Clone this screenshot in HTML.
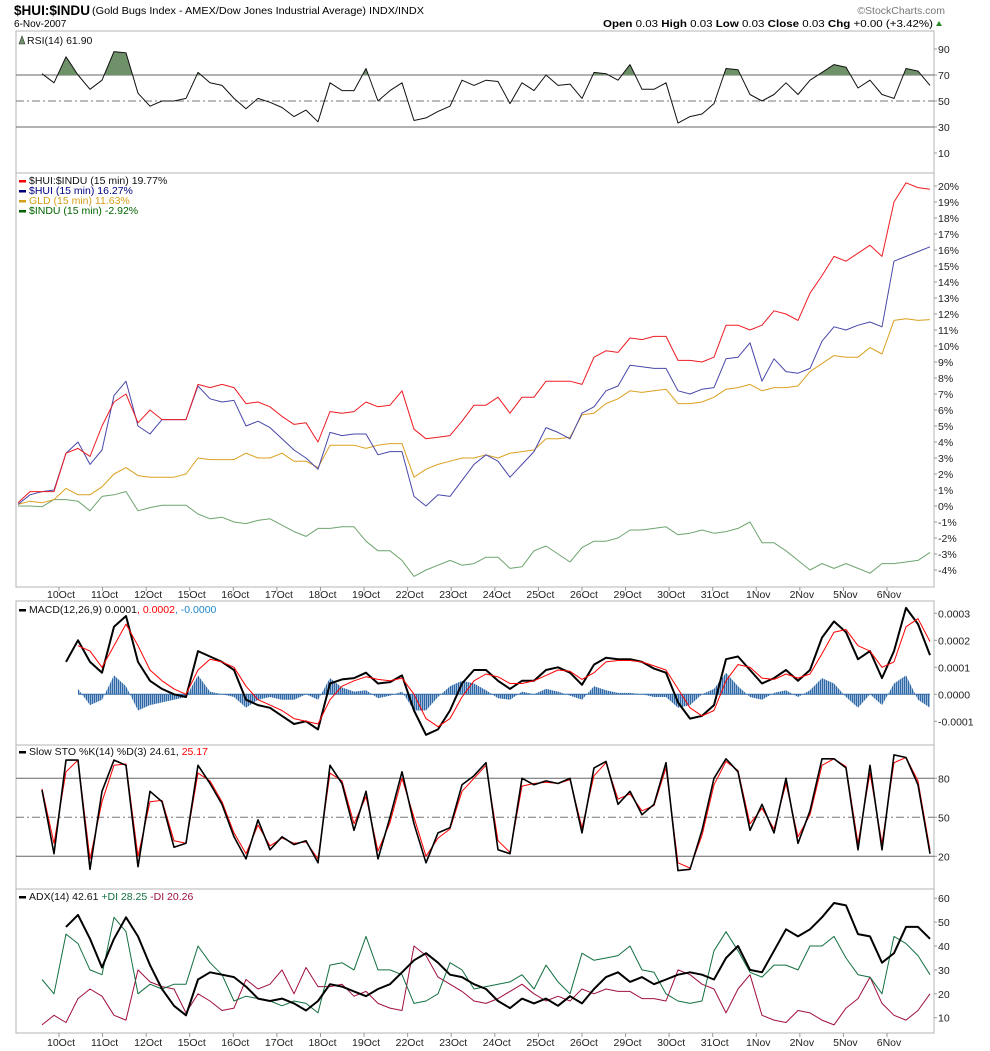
<!DOCTYPE html>
<html><head><meta charset="utf-8"><title>$HUI:$INDU chart</title>
<style>
html,body{margin:0;padding:0;background:#fff;}
svg{display:block;font-family:"Liberation Sans",Arial,sans-serif;}
</style></head>
<body>
<svg id="chart" width="990" height="1051" viewBox="0 0 990 1051">
  <rect width="990" height="1051" fill="#fff"/>
  <text x="14" y="15" font-size="14" font-weight="bold" textLength="76" lengthAdjust="spacingAndGlyphs">$HUI:$INDU</text>
  <text x="92" y="14" font-size="10.5" textLength="332" lengthAdjust="spacingAndGlyphs">(Gold Bugs Index - AMEX/Dow Jones Industrial Average) INDX/INDX</text>
  <text x="14" y="27" font-size="10">6-Nov-2007</text>
  <text x="945" y="14" font-size="10.5" fill="#777" text-anchor="end">©StockCharts.com</text>
  <text x="933" y="27" font-size="10" text-anchor="end" textLength="330" lengthAdjust="spacingAndGlyphs"><tspan font-weight="bold">Open</tspan> 0.03  <tspan font-weight="bold">High</tspan> 0.03  <tspan font-weight="bold">Low</tspan> 0.03  <tspan font-weight="bold">Close</tspan> 0.03  <tspan font-weight="bold">Chg</tspan> +0.00 (+3.42%)</text>
  <polygon points="936,26 942,26 939,21" fill="#2a8a2a"/>
  <g id="layer"></g>
</svg>
<script>
// ---------- data ----------
const dates = ["10Oct","11Oct","12Oct","15Oct","16Oct","17Oct","18Oct","19Oct","22Oct","23Oct","24Oct","25Oct","26Oct","29Oct","30Oct","31Oct","1Nov","2Nov","5Nov","6Nov"];
const rsiTicks = [90,70,50,30,10];
const mainTicks = [20,19,18,17,16,15,14,13,12,11,10,9,8,7,6,5,4,3,2,1,0,-1,-2,-3,-4];
const macdTicks = [3,2,1,0,-1];
const stoTicks = [80,50,20];
const adxTicks = [60,50,40,30,20,10];

const rsi = [null,null,71,64,84,70,59,66,88,87,56,46,50,50,52,72,64,62,52,44,52,49,45,38,43,34,64,58,58,75,50,58,64,35,37,42,46,66,62,66,65,48,64,58,70,62,63,52,72,71,66,78,59,59,64,33,38,40,48,75,74,55,50,55,64,55,66,72,78,76,60,66,55,52,75,73,62];

const hui_indu = [0.2,0.9,0.9,0.9,3.3,3.6,3.1,5.0,6.5,7.0,5.2,6.0,5.4,5.4,5.4,7.6,7.4,7.6,7.4,6.4,6.5,6.2,5.6,5.1,5.2,4.0,5.9,5.8,5.9,6.5,6.2,6.3,7.2,4.8,4.2,4.3,4.4,5.3,6.3,6.3,6.8,5.8,6.8,6.8,7.8,7.8,7.8,7.6,9.3,9.7,9.6,10.5,10.4,10.6,10.6,9.1,9.1,9.0,9.3,11.3,11.3,11.0,11.3,12.2,12.0,11.6,13.3,14.4,15.6,15.3,15.8,16.3,15.6,19.0,20.2,19.9,19.8];
const hui = [0.1,0.7,0.9,1.0,3.3,4.0,2.6,3.5,6.9,7.8,5.0,4.5,5.4,5.4,5.4,7.5,6.7,6.5,6.6,5.0,5.3,4.9,4.2,3.5,3.0,2.3,4.6,4.4,4.5,4.5,3.2,3.4,3.4,0.6,0.0,0.7,0.6,1.6,2.6,3.2,2.8,1.8,2.6,3.4,4.9,4.6,4.2,5.8,6.2,7.2,7.5,8.8,8.7,8.6,8.6,7.2,7.0,7.3,7.4,9.2,9.3,10.2,7.8,9.2,8.4,8.3,8.6,10.3,11.2,11.0,11.3,11.5,11.2,15.3,15.6,15.9,16.2];
const gld = [0.1,0.3,0.2,0.4,1.1,0.7,0.7,1.2,2.0,2.4,1.9,1.8,1.8,1.8,2.0,3.0,2.9,2.9,2.9,3.3,3.0,3.0,3.3,2.8,2.8,2.4,3.8,3.8,3.8,3.6,3.8,3.9,3.9,1.8,2.3,2.6,2.8,3.0,3.0,3.2,3.0,3.3,3.4,3.5,4.2,4.2,4.3,5.7,5.8,6.4,6.7,7.2,7.1,7.2,7.3,6.4,6.4,6.5,6.8,7.3,7.4,7.6,7.2,7.4,7.4,7.5,8.4,8.9,9.4,9.3,9.3,9.9,9.5,11.6,11.7,11.6,11.65];
const indu = [0,0,-0.05,0.4,0.4,0.3,-0.3,0.6,0.7,0.9,-0.3,-0.1,0.05,0.05,0.05,-0.5,-0.8,-0.7,-1.0,-1.1,-0.9,-0.8,-1.2,-1.6,-1.9,-1.4,-1.4,-1.3,-1.3,-2.2,-2.8,-2.8,-3.4,-4.4,-4.0,-3.7,-3.4,-3.7,-3.6,-3.2,-3.2,-3.9,-3.8,-2.8,-2.5,-3.0,-3.5,-2.6,-2.2,-2.2,-2.0,-1.5,-1.5,-1.4,-1.3,-1.8,-1.7,-1.5,-1.7,-1.6,-1.4,-1.0,-2.3,-2.3,-2.8,-3.4,-4.0,-3.6,-3.9,-3.6,-3.9,-4.2,-3.6,-3.6,-3.5,-3.4,-2.9];

// MACD values in units of 0.0001
const macd = [null,null,null,null,1.2,2.0,1.2,0.8,2.5,2.9,1.2,0.5,0.2,0.0,-0.1,1.6,1.4,1.2,0.9,-0.2,-0.4,-0.5,-0.8,-1.1,-1.0,-1.3,0.4,0.55,0.6,0.8,0.4,0.45,0.7,-0.6,-1.5,-1.3,-0.6,0.4,0.9,0.9,0.5,0.2,0.5,0.5,0.9,1.0,0.8,0.35,1.1,1.35,1.3,1.3,1.2,0.95,0.8,-0.3,-0.9,-0.8,-0.4,1.3,1.4,0.9,0.4,0.6,0.9,0.5,0.9,2.1,2.7,2.3,1.3,1.6,0.6,1.6,3.2,2.6,1.45];
const macdSignal = [null,null,null,null,null,1.8,1.6,1.0,1.8,2.6,1.8,0.9,0.5,0.2,0.0,0.9,1.3,1.2,1.0,0.3,-0.2,-0.4,-0.6,-0.9,-1.0,-1.1,-0.2,0.3,0.5,0.65,0.55,0.5,0.6,0.0,-0.9,-1.2,-0.9,-0.1,0.5,0.75,0.65,0.4,0.4,0.5,0.7,0.9,0.85,0.55,0.8,1.2,1.25,1.25,1.2,1.05,0.9,0.2,-0.5,-0.8,-0.6,0.5,1.1,1.0,0.6,0.55,0.75,0.6,0.75,1.5,2.3,2.4,1.8,1.6,1.0,1.2,2.5,2.8,1.95];

const stoK = [null,null,71,22,94,94,10,70,94,90,12,70,62,27,30,90,76,60,35,18,48,25,35,29,32,15,90,76,40,70,18,50,85,45,15,38,42,75,82,92,25,22,80,75,78,76,80,38,88,93,60,70,52,60,92,9,10,40,80,95,85,40,60,38,80,30,55,95,95,88,25,90,25,98,96,75,22];
const stoD = [null,null,72,30,85,94,18,62,90,91,20,62,63,32,30,84,78,62,38,22,44,28,34,30,31,18,84,78,45,66,24,46,80,50,20,34,41,70,80,90,32,23,74,76,77,76,79,42,82,92,64,68,55,59,88,15,11,36,75,93,86,45,57,41,76,35,52,90,95,89,30,84,30,92,96,78,25];

const adx = [null,null,null,null,48,53,43,31,43,52,44,32,22,15,11,26,29,28,27,23,18,17,18,16,13,17,24,23,21,19,22,24,29,34,37,33,28,27,24,22,17,14,18,16,18,15,19,16,22,27,29,25,27,24,26,28,29,28,26,35,40,30,29,38,47,44,47,52,58,57,45,44,33,37,48,48,43];
const plusDI = [null,null,26,20,45,41,30,28,52,46,20,24,22,24,24,40,33,28,17,19,18,17,15,17,16,12,32,33,30,44,30,30,28,16,17,20,33,30,22,23,24,25,28,22,32,25,20,37,34,35,36,40,30,29,20,17,16,17,38,46,38,29,27,32,32,30,40,40,44,35,28,27,20,44,41,36,28];
const minusDI = [null,null,7,11,8,18,22,19,11,9,30,25,23,22,12,20,17,13,14,26,22,24,30,20,31,23,23,24,19,21,16,14,13,40,36,27,24,21,17,16,18,21,24,20,17,19,17,22,20,22,21,21,18,18,17,30,28,24,22,12,22,28,11,9,8,13,12,9,7,14,18,27,16,11,9,13,20];

// ---------- scales ----------
const PL = 16, PR = 934;
const xS = i => 18 + 12 * i;
const xDay = d => 59 + d * 43.58;
const yRSI = v => 75 - (v - 70) * 1.3;
const yMain = v => 186 + (20 - v) * 16;
const yMACD = v => 694.3 - v * 27;
const ySTO = v => 856.3 - (v - 20) * 1.3;
const yADX = v => 1017.7 - (v - 10) * 2.39;

const NS = "http://www.w3.org/2000/svg";
const layer = document.getElementById("layer");
function mk(tag, attrs, parent) {
  const el = document.createElementNS(NS, tag);
  for (const k in attrs) el.setAttribute(k, attrs[k]);
  (parent || layer).appendChild(el);
  return el;
}
function pathFor(arr, ys) {
  let d = "", pen = false;
  arr.forEach((v, i) => {
    if (v === null || v === undefined) { pen = false; return; }
    d += (pen ? "L" : "M") + xS(i).toFixed(1) + "," + ys(v).toFixed(1);
    pen = true;
  });
  return d;
}
function panel(name, y0, y1) {
  const r = mk("rect", {x: PL, y: y0, width: PR - PL, height: y1 - y0, fill: "none", stroke: "#b4b4b4", "stroke-width": 1});
  
  
}
function axisLabel(name, txt, y) {
  const t = mk("text", {x: 938, y: y + 4, "font-size": 10.5, fill: "#222"});
  t.textContent = txt;
  
  
  const tk = mk("line", {x1: PR, x2: PR + 3, y1: y, y2: y, stroke: "#999"});
  
  
}
function hline(name, y, dash, color) {
  const l = mk("line", {x1: PL, x2: PR, y1: y, y2: y, stroke: color || "#666", "stroke-width": 1});
  if (dash) l.setAttribute("stroke-dasharray", "8,3,2,3");
  
  
}
function series(name, arr, ys, color, w) {
  const p = mk("path", {d: pathFor(arr, ys), fill: "none", stroke: color, "stroke-width": w || 1, "stroke-linejoin": "round"});
  
  
  return p;
}
function legend(name, x, y, parts) {
  const t = mk("text", {x: x, y: y, "font-size": 10.5});
  parts.forEach(p => {
    const s = mk("tspan", {fill: p[1]}, t);
    s.textContent = p[0];
  });
  
  
}
function dash(name, x, y, color) {
  const r = mk("rect", {x: x, y: y - 4, width: 7, height: 2.5, fill: color});
  
  
}
function dateAxis(name, yTop, yText) {
  dates.forEach((d, i) => {
    const x = xDay(i);
    const tk = mk("line", {x1: x, x2: x, y1: yTop, y2: yTop + 4, stroke: "#999"});
    
    
    const t = mk("text", {x: x + 2, y: yText, "font-size": 10.5, "text-anchor": "middle", fill: "#222"});
    t.textContent = d;
    
    
  });
}

const defs = mk("defs", {});
const pat = mk("pattern", {id: "histStripes", width: 2, height: 4, patternUnits: "userSpaceOnUse"}, defs);
mk("rect", {x: 0, y: 0, width: 1.3, height: 4, fill: "#2f68a6"}, pat);
mk("rect", {x: 1.3, y: 0, width: 0.7, height: 4, fill: "#a9c3df"}, pat);

// ---------- RSI panel ----------
panel("rsi-panel", 31, 173);
rsiTicks.forEach(v => axisLabel("rsi-axis-label", String(v), yRSI(v)));
hline("rsi-70-line", yRSI(70));
hline("rsi-30-line", yRSI(30));
hline("rsi-50-line", yRSI(50), true, "#777");
const cp = mk("clipPath", {id: "rsiClip"}, defs);
mk("rect", {x: PL, y: 31, width: PR - PL, height: yRSI(70) - 31}, cp);
{
  let pts = [];
  rsi.forEach((v, i) => { if (v !== null) pts.push(xS(i) + "," + yRSI(v).toFixed(1)); });
  const firstI = rsi.findIndex(v => v !== null);
  pts.push(xS(rsi.length - 1) + "," + yRSI(70));
  pts.push(xS(firstI) + "," + yRSI(70));
  const poly = mk("polygon", {points: pts.join(" "), fill: "#6f9169", "clip-path": "url(#rsiClip)"});
  
  
}
series("rsi-line", rsi, yRSI, "#111", 1);
{
  const ic = mk("polygon", {points: "19,44 22,36 25,44", fill: "#6f9169", stroke: "#333", "stroke-width": 0.6});
  
  
}
legend("rsi-legend", 27, 44, [["RSI(14) 61.90", "#111"]]);

// ---------- Main panel ----------
panel("price-panel", 173, 587);
mainTicks.forEach(v => axisLabel("price-axis-label", v + "%", yMain(v)));
series("indu-line", indu, yMain, "#6fa56f", 1);
series("gld-line", gld, yMain, "#dba020", 1);
series("hui-line", hui, yMain, "#4848aa", 1);
series("hui-indu-line", hui_indu, yMain, "#ee1c24", 1);
dash("legend-swatch-hui-indu", 19, 184, "#ff0000");
legend("legend-entry-hui-indu", 29, 184, [["$HUI:$INDU (15 min) 19.77%", "#111"]]);
dash("legend-swatch-hui", 19, 194, "#000080");
legend("legend-entry-hui", 29, 194, [["$HUI (15 min) 16.27%", "#000080"]]);
dash("legend-swatch-gld", 19, 204, "#d4a017");
legend("legend-entry-gld", 29, 204, [["GLD (15 min) 11.63%", "#d4a017"]]);
dash("legend-swatch-indu", 19, 214, "#006400");
legend("legend-entry-indu", 29, 214, [["$INDU (15 min) -2.92%", "#006400"]]);
dateAxis("price-date-axis", 587, 598);

// ---------- MACD panel ----------
panel("macd-panel", 601, 745);
macdTicks.forEach(v => axisLabel("macd-axis-label", (v / 10000).toFixed(4), yMACD(v)));
{
  let top = [], first = -1, last = -1;
  macd.forEach((v, i) => {
    const s = macdSignal[i];
    if (v === null || s === null) return;
    if (first < 0) first = i;
    last = i;
    top.push(xS(i) + "," + yMACD(v - s).toFixed(1));
  });
  const pts = [xS(first) + "," + yMACD(0)].concat(top, [xS(last) + "," + yMACD(0)]);
  const h = mk("polygon", {points: pts.join(" "), fill: "url(#histStripes)", stroke: "none"});
  
  
  const z = mk("line", {x1: xS(first), x2: xS(last), y1: yMACD(0), y2: yMACD(0), stroke: "#2f68a6", "stroke-width": 1});
  
  
}
series("macd-line", macd, yMACD, "#000", 2);
series("macd-signal-line", macdSignal, yMACD, "#ff0000", 1);
dash("macd-legend-swatch", 19, 613, "#000");
legend("macd-legend", 29, 613, [["MACD(12,26,9) 0.0001", "#111"], [", 0.0002", "#ff0000"], [", -0.0000", "#2288cc"]]);

// ---------- Slow STO panel ----------
panel("stochastic-panel", 745, 889);
stoTicks.forEach(v => axisLabel("sto-axis-label", String(v), ySTO(v)));
hline("sto-80-line", ySTO(80));
hline("sto-20-line", ySTO(20));
hline("sto-50-line", ySTO(50), true, "#777");
series("sto-d-line", stoD, ySTO, "#ff0000", 1);
series("sto-k-line", stoK, ySTO, "#000", 1.6);
dash("sto-legend-swatch", 19, 755, "#000");
legend("sto-legend", 29, 755, [["Slow STO %K(14) %D(3) 24.61, ", "#111"], ["25.17", "#ff0000"]]);

// ---------- ADX panel ----------
panel("adx-panel", 889, 1033);
adxTicks.forEach(v => axisLabel("adx-axis-label", String(v), yADX(v)));
series("minus-di-line", minusDI, yADX, "#a0103c", 1);
series("plus-di-line", plusDI, yADX, "#137040", 1);
series("adx-line", adx, yADX, "#000", 2);
dash("adx-legend-swatch", 19, 900, "#000");
legend("adx-legend", 29, 900, [["ADX(14) 42.61 ", "#111"], ["+DI 28.25 ", "#137040"], ["-DI 20.26", "#a0103c"]]);
dateAxis("adx-date-axis", 1033, 1046);
</script>
</body></html>
